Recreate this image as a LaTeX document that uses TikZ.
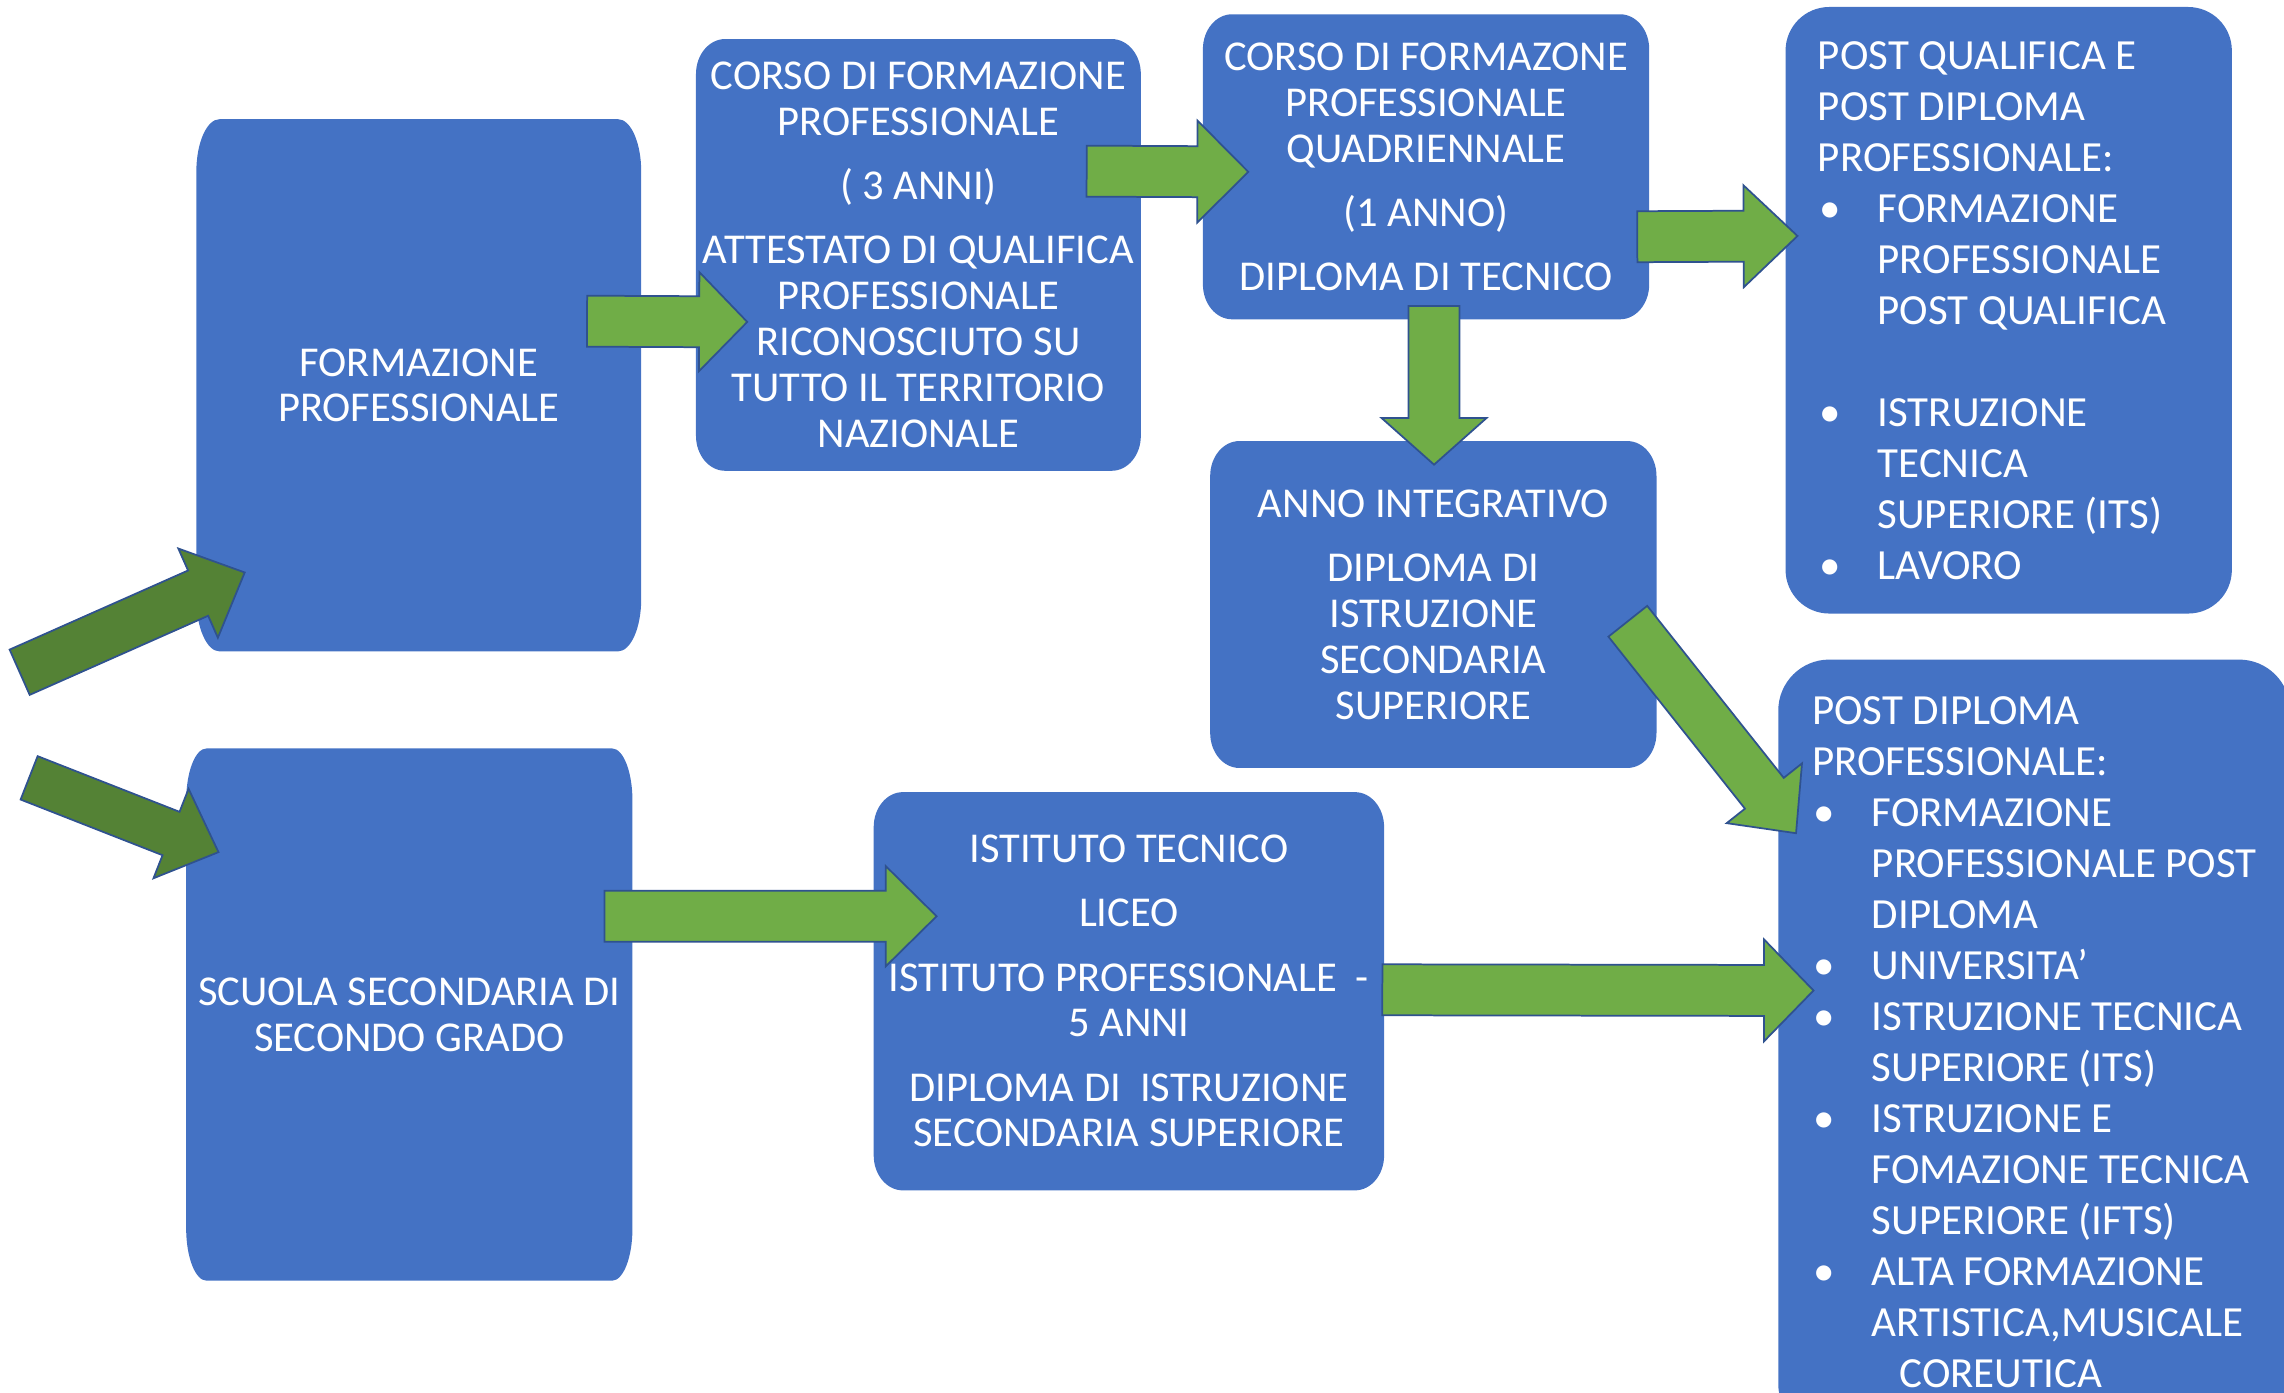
\documentclass[tikz,border=0pt]{standalone}
\usepackage{fontspec}
\setmainfont{Carlito}
\usetikzlibrary{calc,backgrounds}
\definecolor{boxblue}{HTML}{4472C4}
\definecolor{arrgreen}{HTML}{70AD47}
\definecolor{arrdark}{HTML}{548235}
\definecolor{arrline}{HTML}{2F528F}

\newcommand\ebox[3]{%
  \fill[boxblue] ([xshift=#2]#1.north west) -- ([xshift=-#2]#1.north east)
    arc[start angle=90,end angle=0,x radius=#2,y radius=#3]
    -- ([yshift=#3]#1.south east)
    arc[start angle=0,end angle=-90,x radius=#2,y radius=#3]
    -- ([xshift=#2]#1.south west)
    arc[start angle=270,end angle=180,x radius=#2,y radius=#3]
    -- ([yshift=-#3]#1.north west)
    arc[start angle=180,end angle=90,x radius=#2,y radius=#3] -- cycle;}

\newcommand\barrow[6]{%
  \coordinate (tmpb) at ($(#3)!#6!(#2)$);
  \filldraw[fill=#1, arrowedge]
    ($(#2)!#4!90:(#3)$) -- ($(tmpb)!#4!90:(#3)$) -- ($(tmpb)!#5!90:(#3)$)
    -- (#3) -- ($(tmpb)!#5!-90:(#3)$) -- ($(tmpb)!#4!-90:(#3)$)
    -- ($(#2)!#4!-90:(#3)$) -- cycle;}

\newcommand\lbul{\makebox[41pt][l]{\hspace{1pt}\textbullet}}
\newcommand\lind{\hspace*{41pt}}

\tikzset{
  arrowedge/.style={draw=arrline, line width=1.2pt, line join=miter},
  boxtext/.style={text=white, align=center, inner sep=0pt,
    font=\fontsize{29.2}{31.5}\selectfont},
  plainbox/.style={inner sep=0pt},
  listtext/.style={text=white, align=left, inner sep=0pt, anchor=north west,
    font=\fontsize{29.5}{35}\selectfont},
}

\begin{document}
\begin{tikzpicture}[x=1pt,y=-1pt]
\useasboundingbox (0,0) rectangle (1568,956);

% boxes with centred text
\node[boxtext, minimum width=305pt, minimum height=365pt] (fp) at (287.5,264.5)
  {FORMAZIONE\\PROFESSIONALE};
\node[boxtext, minimum width=306pt, minimum height=365pt] (ss) at (281,696.5)
  {SCUOLA SECONDARIA DI\\SECONDO GRADO};
\node[boxtext, minimum width=305pt, minimum height=296pt] (cf) at (630.5,175)
  {CORSO DI FORMAZIONE\\PROFESSIONALE\\[12.5pt]( 3 ANNI)\\[12.5pt]ATTESTATO DI QUALIFICA\\PROFESSIONALE\\RICONOSCIUTO SU\\TUTTO IL TERRITORIO\\NAZIONALE};
\node[boxtext, minimum width=306pt, minimum height=209pt] (cq) at (979,114.5)
  {CORSO DI FORMAZONE\\PROFESSIONALE\\QUADRIENNALE\\[12.5pt](1 ANNO)\\[12.5pt]DIPLOMA DI TECNICO};
\node[boxtext, minimum width=306pt, minimum height=224pt] (ai) at (984,415)
  {ANNO INTEGRATIVO\\[12.5pt]DIPLOMA DI\\ISTRUZIONE\\SECONDARIA\\SUPERIORE};
\node[boxtext, minimum width=350pt, minimum height=273pt] (it) at (775,680.5)
  {ISTITUTO TECNICO\\[12.5pt]LICEO\\[12.5pt]ISTITUTO PROFESSIONALE~~-\\5 ANNI\\[12.5pt]DIPLOMA DI~~ISTRUZIONE\\SECONDARIA SUPERIORE};

% boxes with lists
\node[plainbox, minimum width=306pt, minimum height=416pt] (pq) at (1379,213) {};
\node[listtext] (pqt) at ([xshift=22pt,yshift=-23.5pt]pq.north west)
  {POST QUALIFICA E\\POST DIPLOMA\\PROFESSIONALE:\\\lbul FORMAZIONE\\\lind PROFESSIONALE\\\lind POST QUALIFICA\\[35pt]\lbul ISTRUZIONE\\\lind TECNICA\\\lind SUPERIORE (ITS)\\\lbul LAVORO};
\node[plainbox, minimum width=351pt, minimum height=532pt] (pd) at (1396.5,719) {};
\node[listtext] (pdt) at ([xshift=23pt,yshift=-25.5pt]pd.north west)
  {POST DIPLOMA\\PROFESSIONALE:\\\lbul FORMAZIONE\\\lind PROFESSIONALE POST\\\lind DIPLOMA\\\lbul UNIVERSITA’\\\lbul ISTRUZIONE TECNICA\\\lind SUPERIORE (ITS)\\\lbul ISTRUZIONE E\\\lind FOMAZIONE TECNICA\\\lind SUPERIORE (IFTS)\\\lbul ALTA FORMAZIONE\\\lind ARTISTICA,MUSICALE\\\hspace*{60pt}COREUTICA};

% arrow end points
\coordinate (l1s) at (13.5,461.5);   \coordinate (l1e) at (168,393);
\coordinate (l2s) at (20,534);       \coordinate (l2e) at (150,585);
\coordinate (a1s) at (403,220.5);    \coordinate (a1e) at (513,221);
\coordinate (a2s) at (746,117.5);    \coordinate (a2e) at (857,118);
\coordinate (a3s) at (1124,162.5);   \coordinate (a3e) at (1234,162);
\coordinate (a4s) at (984.5,210);    \coordinate (a4e) at (984.5,319);
\coordinate (a5s) at (1117.5,426.5); \coordinate (a5e) at (1233,572);
\coordinate (a6s) at (415,629);      \coordinate (a6e) at (643,629);
\coordinate (a7s) at (949,679.5);    \coordinate (a7e) at (1245,680);

\begin{scope}[on background layer]
  \ebox{fp}{16pt}{36pt}
  \ebox{ss}{14pt}{36pt}
  \ebox{cf}{20pt}{24pt}
  \ebox{cq}{20pt}{24pt}
  \ebox{ai}{20pt}{24pt}
  \ebox{it}{20pt}{24pt}
  \ebox{pq}{30pt}{30pt}
  \ebox{pd}{35pt}{35pt}
  \barrow{arrdark}{l1s}{l1e}{17pt}{33.5pt}{35pt}
  \barrow{arrdark}{l2s}{l2e}{16pt}{33pt}{35pt}
  \barrow{arrgreen}{a1s}{a1e}{17.5pt}{34pt}{33pt}
  \barrow{arrgreen}{a2s}{a2e}{17.5pt}{35pt}{35pt}
  \barrow{arrgreen}{a3s}{a3e}{17.5pt}{35pt}{37pt}
  \barrow{arrgreen}{a4s}{a4e}{17.5pt}{36pt}{32pt}
  \barrow{arrgreen}{a5s}{a5e}{17pt}{33pt}{35pt}
  \barrow{arrgreen}{a6s}{a6e}{17.5pt}{34.5pt}{35pt}
  \barrow{arrgreen}{a7s}{a7e}{17.5pt}{35pt}{34pt}
\end{scope}
\end{tikzpicture}
\end{document}
